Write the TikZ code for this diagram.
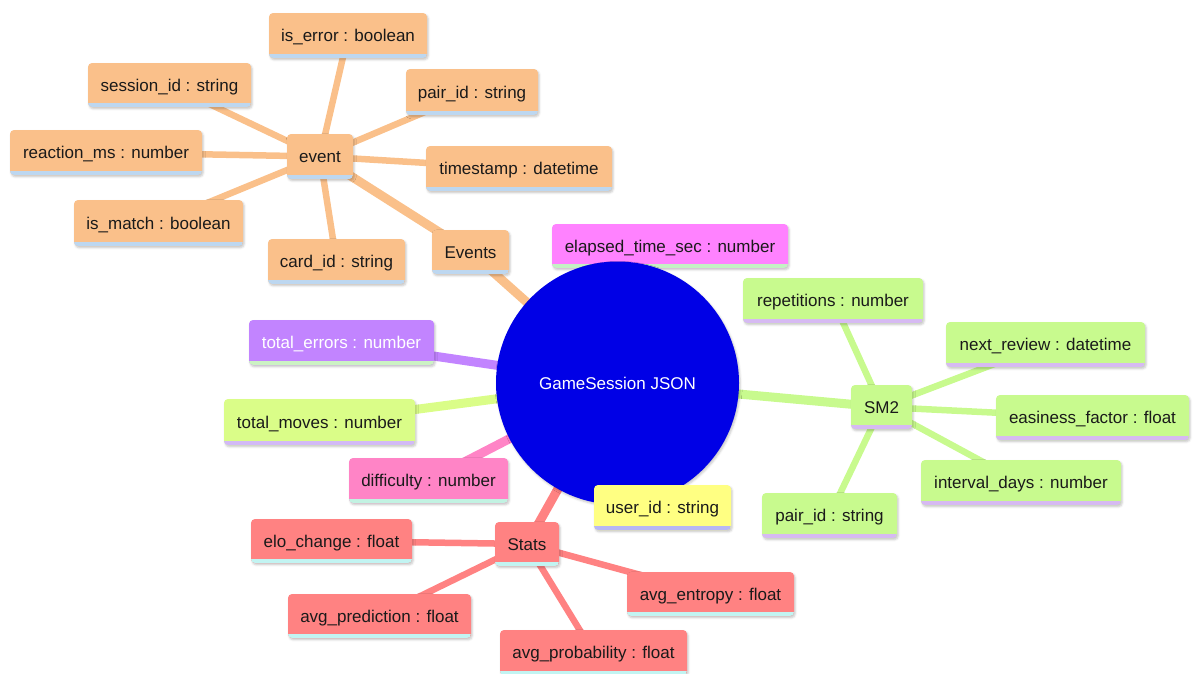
\documentclass[tikz,border=0pt]{standalone}
\usepackage{fontspec}
\setmainfont{Liberation Sans}
\usetikzlibrary{backgrounds,shadows.blur}

% branch colours
\definecolor{evFill}{HTML}{FAC08A}
\definecolor{evStripe}{HTML}{BDD7F0}
\definecolor{smFill}{HTML}{C8FA8E}
\definecolor{smStripe}{HTML}{D6BAF2}
\definecolor{stFill}{HTML}{FF8282}
\definecolor{stStripe}{HTML}{C2F4F2}
\definecolor{elFill}{HTML}{FF82FF}
\definecolor{elStripe}{HTML}{C4F2C4}
\definecolor{teFill}{HTML}{C284FF}
\definecolor{teStripe}{HTML}{CCF2C4}
\definecolor{tmFill}{HTML}{DAFD88}
\definecolor{tmStripe}{HTML}{D2BAF6}
\definecolor{dfFill}{HTML}{FF84C6}
\definecolor{dfStripe}{HTML}{C2F2E2}
\definecolor{uiFill}{HTML}{FFFF82}
\definecolor{uiStripe}{HTML}{B8B8F4}
\definecolor{core}{HTML}{0000E6}
\definecolor{ink}{HTML}{1A1A1A}

\tikzset{
  box/.style 2 args={
    fill=#1, draw=none, rounded corners=4pt, inner sep=0pt,
    text=ink, font=\fontsize{17}{20}\selectfont,
    text height=12pt, text depth=0pt,
    blur shadow={shadow xshift=1.2pt, shadow yshift=-1.8pt,
                 shadow blur radius=2pt, shadow opacity=22},
    path picture={\fill[#2, sharp corners]
      (path picture bounding box.south west) rectangle
      ([yshift=4pt]path picture bounding box.south east);}
  },
  ev/.style={box={evFill}{evStripe}},
  sm/.style={box={smFill}{smStripe}},
  st/.style={box={stFill}{stStripe}},
  trunk/.style={line width=9pt},
  twig/.style={line width=6.5pt},
}

\begin{document}
\begin{tikzpicture}[x=1pt, y=-1pt]
\useasboundingbox (0,0) rectangle (1195,673);

% ---- Events branch ----
\node[ev, minimum width=158pt, minimum height=45pt] (iserr)   at (348,35.5)   {is\_error : boolean};
\node[ev, minimum width=132pt, minimum height=46pt] (evpair)  at (472,92)     {pair\_id : string};
\node[ev, minimum width=163pt, minimum height=44pt] (sess)    at (169.5,85)   {session\_id : string};
\node[ev, minimum width=192pt, minimum height=45pt] (react)   at (106,152.5)  {reaction\_ms : number};
\node[ev, minimum width=66pt,  minimum height=45pt] (event)   at (320,156.5)  {event};
\node[ev, minimum width=186pt, minimum height=45pt] (tstamp)  at (519,168.5)  {timestamp : datetime};
\node[ev, minimum width=169pt, minimum height=46pt] (ismatch) at (158.5,223)  {is\_match : boolean};
\node[ev, minimum width=137pt, minimum height=45pt] (card)    at (336.5,261.5){card\_id : string};
\node[ev, minimum width=77pt,  minimum height=44pt] (events)  at (470.5,252)  {Events};

% ---- single fields ----
\node[box={elFill}{elStripe}, minimum width=236pt, minimum height=44pt] (elapsed) at (670,246) {elapsed\_time\_sec : number};
\node[box={teFill}{teStripe}, text=white, minimum width=185pt, minimum height=45pt] (toterr) at (341.5,342.5) {total\_errors : number};
\node[box={tmFill}{tmStripe}, minimum width=191pt, minimum height=46pt] (totmov) at (319.5,422) {total\_moves : number};
\node[box={dfFill}{dfStripe}, minimum width=159pt, minimum height=45pt] (diff) at (428.5,480.5) {difficulty : number};

% ---- SM2 branch ----
\node[sm, minimum width=180pt, minimum height=45pt] (reps)   at (833,300.5)   {repetitions : number};
\node[sm, minimum width=199pt, minimum height=45pt] (nextr)  at (1045.5,344.5){next\_review : datetime};
\node[sm, minimum width=61pt,  minimum height=44pt] (smtwo)  at (881.5,407)   {SM2};
\node[sm, minimum width=193pt, minimum height=45pt] (easy)   at (1092.5,417.5){easiness\_factor : float};
\node[sm, minimum width=200pt, minimum height=45pt] (ivl)    at (1021,482.5)  {interval\_days : number};
\node[sm, minimum width=135pt, minimum height=45pt] (smpair) at (829.5,515.5)  {pair\_id : string};

% ---- Stats branch ----
\node[st, minimum width=64pt,  minimum height=44pt] (stats)  at (527,544)     {Stats};
\node[st, minimum width=161pt, minimum height=44pt] (elo)    at (331.5,541)   {elo\_change : float};
\node[st, minimum width=167pt, minimum height=44pt] (entr)   at (710.5,594)   {avg\_entropy : float};
\node[st, minimum width=183pt, minimum height=44pt] (pred)   at (379.5,616)   {avg\_prediction : float};
\node[st, minimum width=187pt, minimum height=45pt] (prob)   at (593.5,652.5) {avg\_probability : float};

% ---- centre ----
\node[circle, fill=core, minimum size=243pt, inner sep=0pt, text=white,
      font=\fontsize{17}{20}\selectfont,
      blur shadow={shadow xshift=1.2pt, shadow yshift=-1.8pt, shadow blur radius=2pt, shadow opacity=22}]
      (root) at (617.5,383) {GameSession JSON};

\node[box={uiFill}{uiStripe}, minimum width=137pt, minimum height=45pt] (user) at (662.5,507.5) {user\_id : string};

% ---- connectors ----
\begin{scope}[on background layer]
  \draw[trunk, evFill] (root.center) -- (events.center);
  \draw[trunk, teFill] (root.center) -- (toterr.center);
  \draw[trunk, tmFill] (root.center) -- (totmov.center);
  \draw[trunk, dfFill] (root.center) -- (diff.center);
  \draw[trunk, stFill] (root.center) -- (stats.center);
  \draw[trunk, smFill] (root.center) -- (smtwo.center);
  \draw[trunk, evFill] (events.center) -- (event.center);
  \foreach \n in {iserr, evpair, sess, react, tstamp, ismatch, card}
    \draw[twig, evFill] (event.center) -- (\n.center);
  \foreach \n in {reps, nextr, easy, ivl, smpair}
    \draw[twig, smFill] (smtwo.center) -- (\n.center);
  \foreach \n in {elo, entr, pred, prob}
    \draw[twig, stFill] (stats.center) -- (\n.center);
\end{scope}
\end{tikzpicture}
\end{document}
